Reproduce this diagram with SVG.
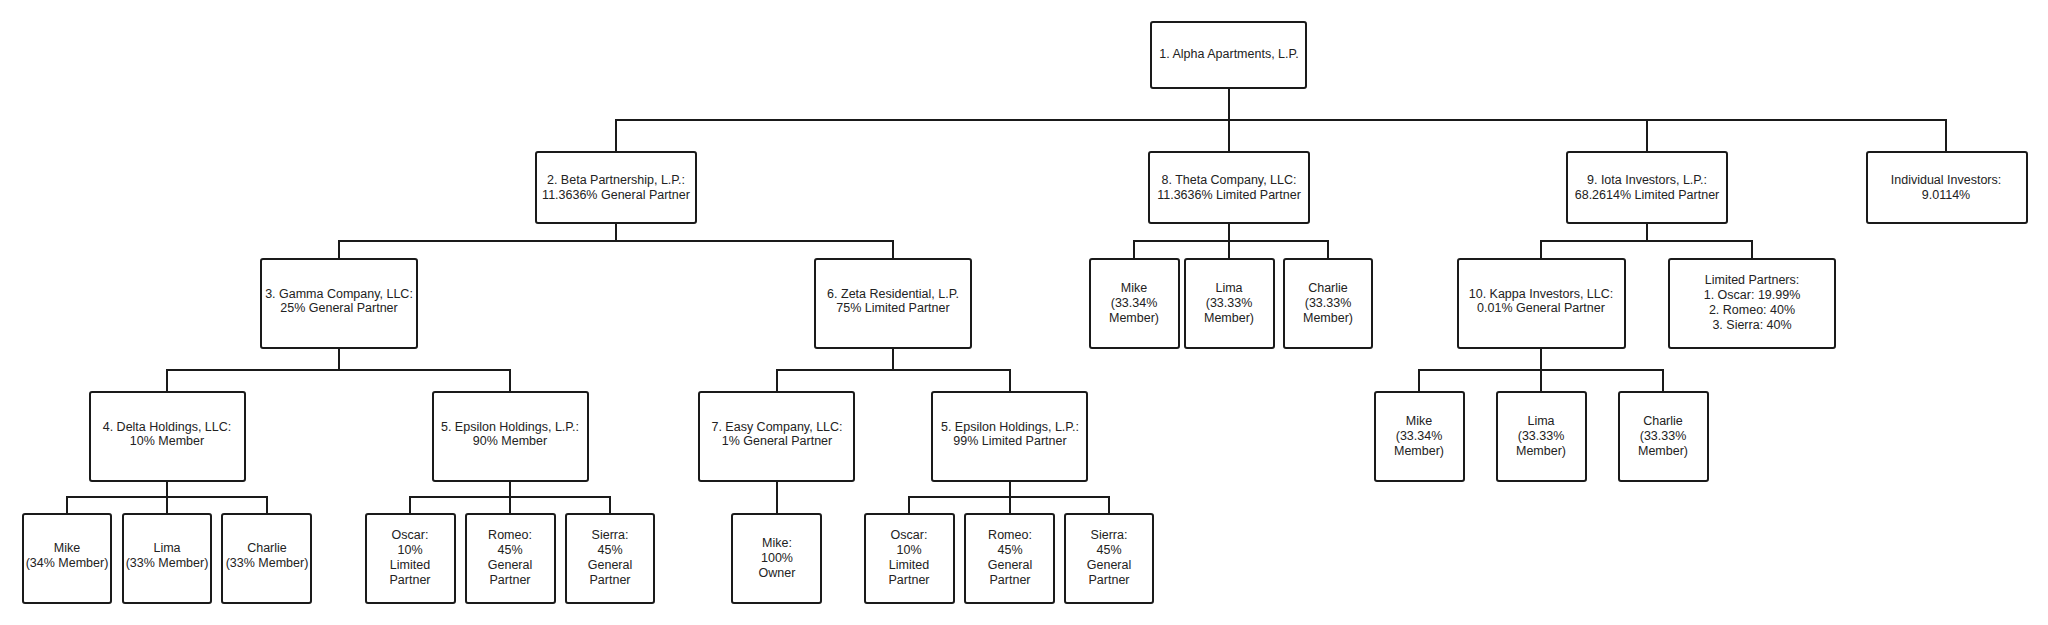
<svg xmlns="http://www.w3.org/2000/svg" width="2048" height="625" viewBox="0 0 2048 625">
<style>
rect{fill:#fff;stroke:#1a1a1a;stroke-width:2;}
text{font-family:"Liberation Sans",Arial,sans-serif;font-size:12.5px;fill:#222;text-anchor:middle;dominant-baseline:central;}
.c path{fill:none;stroke:#1a1a1a;stroke-width:2;}
</style>
<rect x="0" y="0" width="2048" height="625" style="fill:#fff;stroke:none"/>
<g class="c">
<path d="M1229 88V152M616 152V120H1946V152M1647 120V152"/>
<path d="M616 223V241M339 259V241H893V259"/>
<path d="M339 348V370M167 392V370H510V392"/>
<path d="M893 348V370M777 392V370H1010V392"/>
<path d="M167 481V497M67 514V497H267V514"/>
<path d="M510 481V497M410 514V497H610V514"/>
<path d="M777 481V514"/>
<path d="M1010 481V497M909 514V497H1109V514"/>
<path d="M1229 223V241M1134 259V241H1328V259"/>
<path d="M1647 223V241M1541 259V241H1752V259"/>
<path d="M1541 348V370M1419 392V370H1663V392M1541 370V392"/>
<path d="M167 481V514M510 481V514M1010 481V514M1229 241V259"/>
</g>
<g id="n1"><rect x="1151" y="22" width="155" height="66" rx="2"/><text x="1229" y="54">1. Alpha Apartments, L.P.</text></g>
<g id="n2"><rect x="536" y="152" width="160" height="71" rx="2"/><text x="616" y="180">2. Beta Partnership, L.P.:</text><text x="616" y="195">11.3636% General Partner</text></g>
<g id="n8"><rect x="1149" y="152" width="160" height="71" rx="2"/><text x="1229" y="180">8. Theta Company, LLC:</text><text x="1229" y="195">11.3636% Limited Partner</text></g>
<g id="n9"><rect x="1567" y="152" width="160" height="71" rx="2"/><text x="1647" y="180">9. Iota Investors, L.P.:</text><text x="1647" y="195">68.2614% Limited Partner</text></g>
<g id="nind"><rect x="1867" y="152" width="160" height="71" rx="2"/><text x="1946" y="180">Individual Investors:</text><text x="1946" y="195">9.0114%</text></g>
<g id="n3"><rect x="261" y="259" width="156" height="89" rx="2"/><text x="339" y="294">3. Gamma Company, LLC:</text><text x="339" y="308">25% General Partner</text></g>
<g id="n6"><rect x="815" y="259" width="156" height="89" rx="2"/><text x="893" y="294">6. Zeta Residential, L.P.</text><text x="893" y="308">75% Limited Partner</text></g>
<g id="n8a"><rect x="1090" y="259" width="89" height="89" rx="2"/><text x="1134" y="288">Mike</text><text x="1134" y="303">(33.34%</text><text x="1134" y="318">Member)</text></g>
<g id="n8b"><rect x="1185" y="259" width="89" height="89" rx="2"/><text x="1229" y="288">Lima</text><text x="1229" y="303">(33.33%</text><text x="1229" y="318">Member)</text></g>
<g id="n8c"><rect x="1284" y="259" width="88" height="89" rx="2"/><text x="1328" y="288">Charlie</text><text x="1328" y="303">(33.33%</text><text x="1328" y="318">Member)</text></g>
<g id="n10"><rect x="1458" y="259" width="167" height="89" rx="2"/><text x="1541" y="294">10. Kappa Investors, LLC:</text><text x="1541" y="308">0.01% General Partner</text></g>
<g id="nlp"><rect x="1669" y="259" width="166" height="89" rx="2"/><text x="1752" y="280">Limited Partners:</text><text x="1752" y="295">1. Oscar: 19.99%</text><text x="1752" y="310">2. Romeo: 40%</text><text x="1752" y="325">3. Sierra: 40%</text></g>
<g id="n4"><rect x="90" y="392" width="155" height="89" rx="2"/><text x="167" y="427">4. Delta Holdings, LLC:</text><text x="167" y="441">10% Member</text></g>
<g id="n5a"><rect x="433" y="392" width="155" height="89" rx="2"/><text x="510" y="427">5. Epsilon Holdings, L.P.:</text><text x="510" y="441">90% Member</text></g>
<g id="n7"><rect x="699" y="392" width="155" height="89" rx="2"/><text x="777" y="427">7. Easy Company, LLC:</text><text x="777" y="441">1% General Partner</text></g>
<g id="n5b"><rect x="932" y="392" width="155" height="89" rx="2"/><text x="1010" y="427">5. Epsilon Holdings, L.P.:</text><text x="1010" y="441">99% Limited Partner</text></g>
<g id="n10a"><rect x="1375" y="392" width="89" height="89" rx="2"/><text x="1419" y="421">Mike</text><text x="1419" y="436">(33.34%</text><text x="1419" y="451">Member)</text></g>
<g id="n10b"><rect x="1497" y="392" width="89" height="89" rx="2"/><text x="1541" y="421">Lima</text><text x="1541" y="436">(33.33%</text><text x="1541" y="451">Member)</text></g>
<g id="n10c"><rect x="1619" y="392" width="89" height="89" rx="2"/><text x="1663" y="421">Charlie</text><text x="1663" y="436">(33.33%</text><text x="1663" y="451">Member)</text></g>
<g id="l1"><rect x="23" y="514" width="88" height="89" rx="2"/><text x="67" y="548">Mike</text><text x="67" y="563">(34% Member)</text></g>
<g id="l2"><rect x="123" y="514" width="88" height="89" rx="2"/><text x="167" y="548">Lima</text><text x="167" y="563">(33% Member)</text></g>
<g id="l3"><rect x="222" y="514" width="89" height="89" rx="2"/><text x="267" y="548">Charlie</text><text x="267" y="563">(33% Member)</text></g>
<g id="l4"><rect x="366" y="514" width="89" height="89" rx="2"/><text x="410" y="535">Oscar:</text><text x="410" y="550">10%</text><text x="410" y="565">Limited</text><text x="410" y="580">Partner</text></g>
<g id="l5"><rect x="466" y="514" width="89" height="89" rx="2"/><text x="510" y="535">Romeo:</text><text x="510" y="550">45%</text><text x="510" y="565">General</text><text x="510" y="580">Partner</text></g>
<g id="l6"><rect x="566" y="514" width="88" height="89" rx="2"/><text x="610" y="535">Sierra:</text><text x="610" y="550">45%</text><text x="610" y="565">General</text><text x="610" y="580">Partner</text></g>
<g id="l7"><rect x="732" y="514" width="89" height="89" rx="2"/><text x="777" y="543">Mike:</text><text x="777" y="558">100%</text><text x="777" y="573">Owner</text></g>
<g id="l8"><rect x="865" y="514" width="89" height="89" rx="2"/><text x="909" y="535">Oscar:</text><text x="909" y="550">10%</text><text x="909" y="565">Limited</text><text x="909" y="580">Partner</text></g>
<g id="l9"><rect x="965" y="514" width="89" height="89" rx="2"/><text x="1010" y="535">Romeo:</text><text x="1010" y="550">45%</text><text x="1010" y="565">General</text><text x="1010" y="580">Partner</text></g>
<g id="l10"><rect x="1065" y="514" width="88" height="89" rx="2"/><text x="1109" y="535">Sierra:</text><text x="1109" y="550">45%</text><text x="1109" y="565">General</text><text x="1109" y="580">Partner</text></g>
</svg>
